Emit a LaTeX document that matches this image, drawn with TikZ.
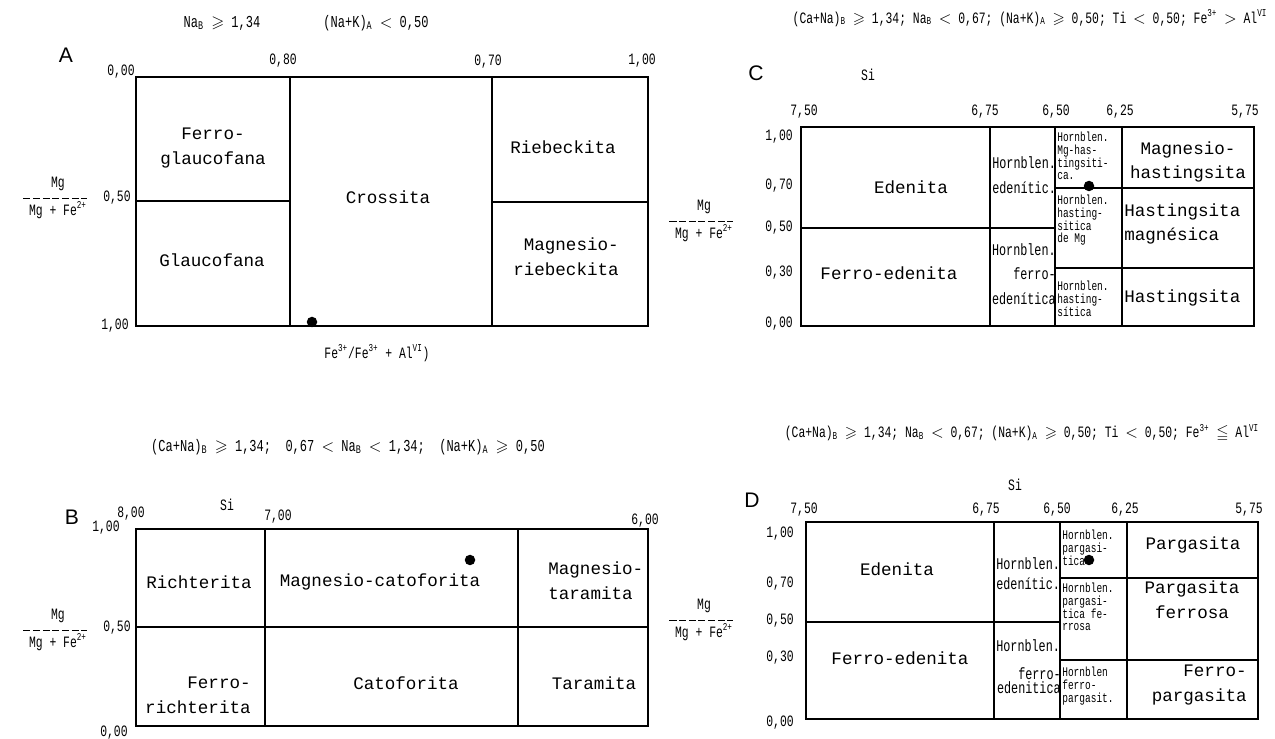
\documentclass[tikz,border=0pt]{standalone}
\usepackage{amssymb}
\usepackage{fontspec}
\setmainfont{Liberation Mono}
\newfontfamily\narrowfont[FakeStretch=0.72]{Liberation Mono}
\newfontfamily\letterfont{Liberation Sans}
\usepackage{tikz}

\begin{document}
\begin{tikzpicture}[
    x=0.02cm, y=-0.02cm,
    frame/.style={line width=1.1pt},
    region/.style={font=\fontsize{10}{14}\selectfont, align=center, inner sep=0pt},
    midtext/.style={font=\narrowfont\fontsize{9.3}{13.9}\selectfont, inner sep=0pt},
    hornbl/.style={font=\narrowfont\fontsize{7.5}{7.2}\selectfont, align=left, anchor=north west, inner sep=0pt},
    tick/.style={font=\narrowfont\fontsize{9}{9}\selectfont, inner sep=0pt},
    cond/.style={font=\narrowfont\fontsize{9.5}{9.5}\selectfont, inner sep=0pt},
    fraclabel/.style={font=\narrowfont\fontsize{9}{16}\selectfont, align=center, inner sep=0pt},
    panel/.style={font=\letterfont\fontsize{12}{12}\selectfont, inner sep=0pt},
    dot/.style={circle, fill, inner sep=0pt, minimum size=2.1mm}
]
\useasboundingbox (0,0) rectangle (1275,739);

% panel A
\node[panel] (labA) at (66,55) {A};
\node[cond] (condA1) at (222,23) {Na\textsubscript{B} $\geqslant$ 1,34};
\node[cond] (condA2) at (376,23) {(Na+K)\textsubscript{A} $<$ 0,50};
\draw[frame] (136,77) rectangle (648,326);
\draw[frame] (290,77) -- (290,326);
\draw[frame] (492,77) -- (492,326);
\draw[frame] (136,201) -- (290,201);
\draw[frame] (492,202) -- (648,202);
\node[tick] (a00) at (121,72) {0,00};
\node[tick] (a80) at (283,61) {0,80};
\node[tick] (a70) at (488,62) {0,70};
\node[tick] (a10) at (642,61) {1,00};
\node[tick] (a50) at (117,198) {0,50};
\node[tick] (a1b) at (115,326) {1,00};
\node[fraclabel] (fracA) at (58,198) {Mg\\Mg + Fe\textsuperscript{2+}};
\draw[dashed, dash pattern=on 4pt off 1.5pt] ([xshift=-3pt]fracA.west) -- (fracA.east);
\node[tick] (feA) at (377,353) {Fe\textsuperscript{3+}/Fe\textsuperscript{3+} + Al\textsuperscript{VI})};
\node[dot] (dotA) at (312,322) {};
\node[region] (fglauc) at (213,148) {Ferro-\\glaucofana};
\node[region] (glauc) at (212,260) {Glaucofana};
\node[region] (cross) at (388,197) {Crossita};
\node[region] (rieb) at (563,147) {Riebeckita};
\node[region, align=right] (mrieb) at (566,257) {Magnesio-\\riebeckita};

% panel B
\node[panel] (labB) at (72,517) {B};
\node[cond] (condB) at (348,447) {(Ca+Na)\textsubscript{B} $\geqslant$ 1,34;\ \ 0,67 $<$ Na\textsubscript{B} $<$ 1,34;\ \ (Na+K)\textsubscript{A} $\geqslant$ 0,50};
\node[tick] (siB) at (227,505) {Si};
\draw[frame] (136,529) rectangle (648,726);
\draw[frame] (265,529) -- (265,726);
\draw[frame] (518,529) -- (518,726);
\draw[frame] (136,627) -- (648,627);
\node[tick] (b80) at (131,514) {8,00};
\node[tick] (b1) at (106,528) {1,00};
\node[tick] (b70) at (278,517) {7,00};
\node[tick] (b60) at (645,521) {6,00};
\node[tick] (b50) at (117,628) {0,50};
\node[tick] (b00) at (114,733) {0,00};
\node[fraclabel] (fracB) at (58,630) {Mg\\Mg + Fe\textsuperscript{2+}};
\draw[dashed, dash pattern=on 4pt off 1.5pt] ([xshift=-3pt]fracB.west) -- (fracB.east);
\node[dot] (dotB) at (470,560) {};
\node[region] (richt) at (199,582) {Richterita};
\node[region] (mcato) at (380,582) {Magnesio-catoforita};
\node[region, anchor=west, align=left] (mtara) at (548,581) {Magnesio-\\taramita};
\node[region, anchor=east, align=right] (frich) at (251,695) {Ferro-\\richterita};
\node[region] (cato) at (406,683) {Catoforita};
\node[region] (tara) at (594,683) {Taramita};

% panel C
\node[panel] (labC) at (756,73) {C};
\node[cond, font=\narrowfont\fontsize{9}{9}\selectfont] (condC) at (1030,18) {(Ca+Na)\textsubscript{B} $\geqslant$ 1,34; Na\textsubscript{B} $<$ 0,67; (Na+K)\textsubscript{A} $\geqslant$ 0,50; Ti $<$ 0,50; Fe\textsuperscript{3+} $>$ Al\textsuperscript{VI}};
\node[tick] (siC) at (868,75) {Si};
\draw[frame] (801,127) rectangle (1254,326);
\draw[frame] (990,127) -- (990,326);
\draw[frame] (1055,127) -- (1055,326);
\draw[frame] (1122,127) -- (1122,326);
\draw[frame] (801,228) -- (1055,228);
\draw[frame] (1055,188) -- (1254,188);
\draw[frame] (1055,268) -- (1254,268);
\node[tick] (c750) at (804,112) {7,50};
\node[tick] (c675) at (985,112) {6,75};
\node[tick] (c650) at (1056,112) {6,50};
\node[tick] (c625) at (1120,112) {6,25};
\node[tick] (c575) at (1245,112) {5,75};
\node[tick] (c10) at (779,137) {1,00};
\node[tick] (c07) at (779,186) {0,70};
\node[tick] (c05) at (779,228) {0,50};
\node[tick] (c03) at (779,273) {0,30};
\node[tick] (c00) at (779,324) {0,00};
\node[fraclabel] (fracC) at (704,221) {Mg\\Mg + Fe\textsuperscript{2+}};
\draw[dashed, dash pattern=on 4pt off 1.5pt] ([xshift=-3pt]fracC.west) -- (fracC.east);
\node[dot] (dotC) at (1089,186) {};
\node[region] (edenC) at (911,187) {Edenita};
\node[region] (fedenC) at (889,273) {Ferro-edenita};
\node[midtext, anchor=west, align=left] (hedenC) at (992,175) {Hornblen.\\edenític.};
\node[midtext, anchor=east, align=right] (hfedenC) at (1056,274) {Hornblen.\\ferro-\\edenítica};
\node[hornbl] (hmghC) at (1057,132) {Hornblen.\\Mg-has-\\tingsiti-\\ca.};
\node[hornbl] (hhasmC) at (1057,195) {Hornblen.\\hasting-\\sitica\\de Mg};
\node[hornbl] (hhasC) at (1057,281) {Hornblen.\\hasting-\\sítica};
\node[region] (mhastC) at (1188,162) {Magnesio-\\hastingsita};
\node[region, anchor=west, align=left] (hastmC) at (1124,224) {Hastingsita\\magnésica};
\node[region, anchor=west] (hastC) at (1124,298) {Hastingsita};

% panel D
\node[panel] (labD) at (752,500) {D};
\node[cond, font=\narrowfont\fontsize{9}{9}\selectfont] (condD) at (1022,433) {(Ca+Na)\textsubscript{B} $\geqslant$ 1,34; Na\textsubscript{B} $<$ 0,67; (Na+K)\textsubscript{A} $\geqslant$ 0,50; Ti $<$ 0,50; Fe\textsuperscript{3+} $\leqq$ Al\textsuperscript{VI}};
\node[tick] (siD) at (1015,485) {Si};
\draw[frame] (806,522) rectangle (1258,719);
\draw[frame] (994,522) -- (994,719);
\draw[frame] (1060,522) -- (1060,719);
\draw[frame] (1127,522) -- (1127,719);
\draw[frame] (806,622) -- (1060,622);
\draw[frame] (1060,578) -- (1258,578);
\draw[frame] (1060,660) -- (1258,660);
\node[tick] (d750) at (804,510) {7,50};
\node[tick] (d675) at (986,510) {6,75};
\node[tick] (d650) at (1057,510) {6,50};
\node[tick] (d625) at (1125,510) {6,25};
\node[tick] (d575) at (1249,510) {5,75};
\node[tick] (d10) at (780,534) {1,00};
\node[tick] (d07) at (780,584) {0,70};
\node[tick] (d05) at (780,621) {0,50};
\node[tick] (d03) at (780,658) {0,30};
\node[tick] (d00) at (780,723) {0,00};
\node[fraclabel] (fracD) at (704,620) {Mg\\Mg + Fe\textsuperscript{2+}};
\draw[dashed, dash pattern=on 4pt off 1.5pt] ([xshift=-3pt]fracD.west) -- (fracD.east);
\node[dot] (dotD) at (1089,560) {};
\node[region] (edenD) at (897,569) {Edenita};
\node[region] (fedenD) at (900,658) {Ferro-edenita};
\node[midtext, anchor=west, align=left, font=\narrowfont\fontsize{9.3}{11.4}\selectfont] (hedenD) at (996,574) {Hornblen.\\edenític.};
\node[midtext, anchor=west] (hfedenD) at (996,646) {Hornblen.};
\node[midtext, anchor=east, align=right, font=\narrowfont\fontsize{9.3}{8}\selectfont] (fedD) at (1061,681) {ferro-\\edenitica};
\node[hornbl] (hparD) at (1062,530) {Hornblen.\\pargasi-\\tica};
\node[hornbl] (hpfeD) at (1062,583) {Hornblen.\\pargasi-\\tica fe-\\rrosa};
\node[hornbl] (hfparD) at (1062,667) {Hornblen\\ferro-\\pargasit.};
\node[region] (pargD) at (1193,545) {Pargasita};
\node[region] (pferD) at (1192,600) {Pargasita\\ferrosa};
\node[region, anchor=east, align=right] (fpargD) at (1247,685) {Ferro-\\pargasita};
\end{tikzpicture}
\end{document}
